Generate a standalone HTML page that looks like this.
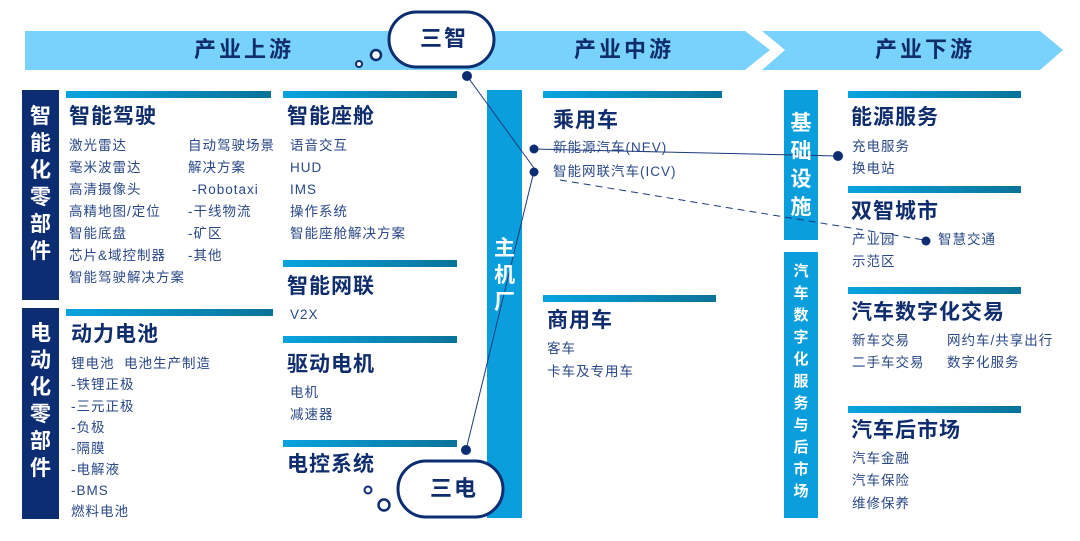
<!DOCTYPE html>
<html><head><meta charset="utf-8"><style>
*{margin:0;padding:0;box-sizing:border-box}
body{width:1080px;height:541px;background:#fff;position:relative;overflow:hidden;font-family:"Liberation Sans","Noto Sans CJK SC",sans-serif;color:#1b3a7a}
.a{position:absolute;white-space:nowrap;line-height:1}
.t{font-size:21px;font-weight:bold;color:#0f2c6c;letter-spacing:1px;margin-top:-1px}
.s{font-size:13.5px;color:#2a4788;letter-spacing:1px}
.bar{position:absolute;height:7px;background:linear-gradient(90deg,#0aa3df,#0a7399)}
.vc{position:absolute;color:#fff;font-weight:bold;text-align:center;line-height:1}
.h{font-size:22px;font-weight:bold;color:#0f2c6c;letter-spacing:3px}
</style></head><body>
<svg width="1080" height="541" style="position:absolute;left:0;top:0">
<polygon points="25,31 745,31 770,50 745,70 25,70" fill="#78d2fc"/>
<polygon points="762,31 1040,31 1063,50 1040,70 762,70 785,50" fill="#78d2fc"/>
<rect x="22" y="90" width="37" height="210" fill="#0d2d73"/>
<rect x="22" y="308" width="37" height="211" fill="#0d2d73"/>
<rect x="487" y="90" width="35" height="428" fill="#0a9fdc"/>
<rect x="784" y="90" width="34" height="150" fill="#0a9fdc"/>
<rect x="784" y="252" width="34" height="266" fill="#0a9fdc"/>
<line x1="467" y1="76" x2="534" y2="168" stroke="#1b3a7a" stroke-width="1"/>
<line x1="466" y1="450" x2="534" y2="171" stroke="#1b3a7a" stroke-width="1"/>
<line x1="534" y1="149" x2="838" y2="156" stroke="#1b3a7a" stroke-width="1"/>
<line x1="560" y1="180" x2="924" y2="240" stroke="#1b3a7a" stroke-width="1" stroke-dasharray="7,5"/>
<circle cx="467" cy="76" r="5" fill="#0d2d73"/>
<circle cx="466" cy="450" r="5" fill="#0d2d73"/>
<circle cx="534" cy="149" r="4.5" fill="#0d2d73"/>
<circle cx="534" cy="172" r="4.5" fill="#0d2d73"/>
<circle cx="838" cy="156" r="5" fill="#0d2d73"/>
<circle cx="926" cy="241" r="4.5" fill="#0d2d73"/>
<rect x="389" y="12" width="105" height="55" rx="27.5" fill="#fff" stroke="#0d2d73" stroke-width="3"/>
<circle cx="376" cy="55" r="5" fill="#fff" stroke="#0d2d73" stroke-width="2.5"/>
<circle cx="359" cy="64" r="3" fill="#fff" stroke="#0d2d73" stroke-width="2"/>
<rect x="398" y="461" width="105" height="56" rx="28" fill="#fff" stroke="#0d2d73" stroke-width="3"/>
<circle cx="368" cy="490" r="3.5" fill="#fff" stroke="#0d2d73" stroke-width="2"/>
<circle cx="384" cy="505" r="5.5" fill="#fff" stroke="#0d2d73" stroke-width="2.5"/>
</svg>
<div class="a h" style="left:194px;top:39px">产业上游</div>
<div class="a h" style="left:574px;top:39px">产业中游</div>
<div class="a h" style="left:875px;top:39px">产业下游</div>
<div class="a h" style="left:420px;top:28px;letter-spacing:2px">三智</div>
<div class="a h" style="left:430px;top:478px;letter-spacing:2px">三电</div>

<div class="vc" style="left:22px;top:103px;width:37px;font-size:21px;line-height:27px">智<br>能<br>化<br>零<br>部<br>件</div>
<div class="vc" style="left:22px;top:320px;width:37px;font-size:21px;line-height:27px">电<br>动<br>化<br>零<br>部<br>件</div>
<div class="vc" style="left:487px;top:235px;width:35px;font-size:21px;line-height:27px">主<br>机<br>厂</div>
<div class="vc" style="left:784px;top:110px;width:34px;font-size:21px;line-height:28px">基<br>础<br>设<br>施</div>
<div class="vc" style="left:784px;top:261px;width:34px;font-size:15px;line-height:22px">汽<br>车<br>数<br>字<br>化<br>服<br>务<br>与<br>后<br>市<br>场</div>

<div class="bar" style="left:66px;top:91px;width:205px"></div>
<div class="bar" style="left:283px;top:91px;width:174px"></div>
<div class="bar" style="left:283px;top:260px;width:174px"></div>
<div class="bar" style="left:283px;top:336px;width:174px"></div>
<div class="bar" style="left:283px;top:440px;width:174px"></div>
<div class="bar" style="left:66px;top:309px;width:207px"></div>
<div class="bar" style="left:543px;top:91px;width:179px"></div>
<div class="bar" style="left:543px;top:295px;width:173px"></div>
<div class="bar" style="left:848px;top:91px;width:173px"></div>
<div class="bar" style="left:848px;top:186px;width:173px"></div>
<div class="bar" style="left:848px;top:287px;width:173px"></div>
<div class="bar" style="left:848px;top:406px;width:173px"></div>

<div class="a t" style="left:69px;top:107px">智能驾驶</div>
<div class="a s" style="left:69px;top:139px">激光雷达</div>
<div class="a s" style="left:69px;top:161px">毫米波雷达</div>
<div class="a s" style="left:69px;top:183px">高清摄像头</div>
<div class="a s" style="left:69px;top:205px">高精地图/定位</div>
<div class="a s" style="left:69px;top:227px">智能底盘</div>
<div class="a s" style="left:69px;top:249px">芯片&amp;域控制器</div>
<div class="a s" style="left:69px;top:271px">智能驾驶解决方案</div>
<div class="a s" style="left:188px;top:139px">自动驾驶场景</div>
<div class="a s" style="left:188px;top:161px">解决方案</div>
<div class="a s" style="left:192px;top:183px">-Robotaxi</div>
<div class="a s" style="left:188px;top:205px">-干线物流</div>
<div class="a s" style="left:188px;top:227px">-矿区</div>
<div class="a s" style="left:188px;top:249px">-其他</div>

<div class="a t" style="left:287px;top:107px">智能座舱</div>
<div class="a s" style="left:290px;top:139px">语音交互</div>
<div class="a s" style="left:290px;top:161px">HUD</div>
<div class="a s" style="left:290px;top:183px">IMS</div>
<div class="a s" style="left:290px;top:205px">操作系统</div>
<div class="a s" style="left:290px;top:227px">智能座舱解决方案</div>
<div class="a t" style="left:287px;top:277px">智能网联</div>
<div class="a s" style="left:290px;top:308px">V2X</div>
<div class="a t" style="left:287px;top:355px">驱动电机</div>
<div class="a s" style="left:290px;top:386px">电机</div>
<div class="a s" style="left:290px;top:408px">减速器</div>
<div class="a t" style="left:287px;top:455px">电控系统</div>

<div class="a t" style="left:71px;top:325px">动力电池</div>
<div class="a s" style="left:71px;top:357px">锂电池&nbsp; 电池生产制造</div>
<div class="a s" style="left:71px;top:378px">-铁锂正极</div>
<div class="a s" style="left:71px;top:400px">-三元正极</div>
<div class="a s" style="left:71px;top:421px">-负极</div>
<div class="a s" style="left:71px;top:442px">-隔膜</div>
<div class="a s" style="left:71px;top:463px">-电解液</div>
<div class="a s" style="left:71px;top:484px">-BMS</div>
<div class="a s" style="left:71px;top:505px">燃料电池</div>

<div class="a t" style="left:553px;top:111px">乘用车</div>
<div class="a s" style="left:553px;top:141px">新能源汽车(NEV)</div>
<div class="a s" style="left:553px;top:165px">智能网联汽车(ICV)</div>
<div class="a t" style="left:547px;top:311px">商用车</div>
<div class="a s" style="left:547px;top:342px">客车</div>
<div class="a s" style="left:547px;top:365px">卡车及专用车</div>

<div class="a t" style="left:851px;top:108px">能源服务</div>
<div class="a s" style="left:852px;top:140px">充电服务</div>
<div class="a s" style="left:852px;top:162px">换电站</div>
<div class="a t" style="left:851px;top:202px">双智城市</div>
<div class="a s" style="left:852px;top:233px">产业园</div>
<div class="a s" style="left:852px;top:255px">示范区</div>
<div class="a s" style="left:938px;top:233px">智慧交通</div>
<div class="a t" style="left:851px;top:303px">汽车数字化交易</div>
<div class="a s" style="left:852px;top:334px">新车交易</div>
<div class="a s" style="left:852px;top:356px">二手车交易</div>
<div class="a s" style="left:947px;top:334px">网约车/共享出行</div>
<div class="a s" style="left:947px;top:356px">数字化服务</div>
<div class="a t" style="left:851px;top:421px">汽车后市场</div>
<div class="a s" style="left:852px;top:452px">汽车金融</div>
<div class="a s" style="left:852px;top:474px">汽车保险</div>
<div class="a s" style="left:852px;top:497px">维修保养</div>
</body></html>
